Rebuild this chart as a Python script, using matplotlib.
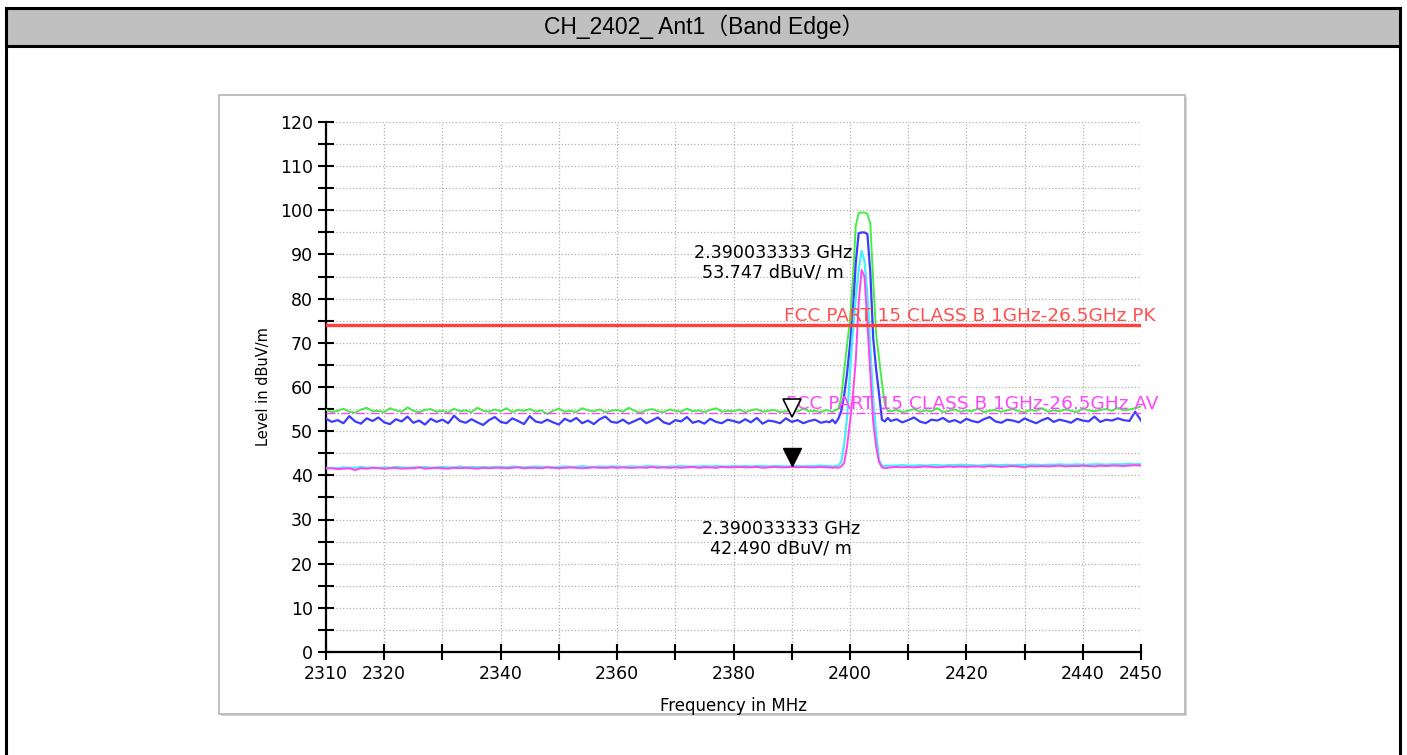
import matplotlib
matplotlib.use("Agg")
import matplotlib.pyplot as plt
import matplotlib.transforms as mtransforms
from matplotlib.patches import Rectangle
from matplotlib.lines import Line2D
import numpy as np

# ---- data ----
title = "CH_2402_ Ant1（Band Edge）"

# sweep frequencies (MHz): 1 MHz steps on the flat parts, 0.5 MHz around the carrier
freq = np.concatenate([np.arange(2310, 2397, 1.0),
                       np.arange(2396.5, 2407.0, 0.5),
                       np.arange(2407, 2451, 1.0)])

green_flat1 = [54.8, 54.3, 54.6, 55.1, 54.4, 54.2, 54.9, 55.3, 54.5, 54.6,
               54.3, 55.2, 54.7, 54.4, 55.4, 54.6, 54.3, 54.8, 55.0, 54.4,
               54.6, 54.2, 55.1, 54.5, 54.7, 54.3, 55.3, 54.6, 54.4, 54.9,
               54.5, 55.2, 54.3, 54.8, 54.6, 55.0, 54.4, 54.7, 53.9, 54.6,
               55.1, 54.4, 54.6, 54.3, 55.2, 54.7, 54.5, 54.9, 54.3, 54.6,
               54.8, 54.4, 55.3, 54.6, 54.2, 54.7, 55.0, 54.5, 54.3, 54.9,
               54.6, 54.4, 55.1, 54.5, 54.7, 54.3, 54.8, 55.2, 54.4, 54.6,
               54.5, 54.9, 54.3, 54.7, 55.0, 54.4, 54.6, 54.8, 54.3, 54.5,
               54.7, 54.4, 55.1, 54.5, 54.6, 54.3, 54.8]
green_peak = [54.6, 54.3, 54.8, 55.0, 57.5, 63.5, 69.5, 75.0, 84.0, 96.5, 99.4,
              99.5, 99.5, 99.2, 97.0, 84.0, 72.0, 66.5, 61.0, 56.0, 54.6]
green_flat2 = [54.5, 54.8, 54.3, 54.6, 55.0, 54.4, 54.7, 54.5, 55.2, 54.3,
               54.6, 54.9, 54.4, 54.7, 54.5, 55.1, 54.3, 54.6, 54.8, 54.4,
               54.7, 55.0, 54.5, 54.3, 54.8, 54.6, 55.2, 54.4, 54.7, 54.5,
               54.9, 54.6, 54.3, 55.1, 54.7, 54.5, 54.8, 55.0, 54.6, 55.3,
               54.7, 54.9, 55.2, 55.6]

blue_flat1 = [52.8, 52.1, 52.5, 51.8, 53.4, 52.2, 51.7, 52.9, 52.3, 53.1,
              52.0, 51.6, 52.7, 52.2, 53.3, 51.9, 52.4, 51.5, 52.8, 52.1,
              52.6, 51.8, 53.5, 52.3, 51.9, 52.7, 52.0, 51.4, 52.5, 53.2,
              52.1, 51.8, 52.9, 52.3, 51.6, 53.4, 52.2, 51.9, 52.6, 52.0,
              51.5, 52.8, 52.2, 53.0, 51.8, 52.4, 51.6, 52.7, 53.3, 52.1,
              51.9, 52.6, 51.7, 52.3, 52.9, 51.8, 52.4, 53.1, 52.0, 51.6,
              52.5, 52.2, 53.2, 51.9, 52.3, 51.7, 52.8, 52.1, 51.8, 52.6,
              52.3, 51.9, 52.7, 52.0, 53.0, 51.7, 52.4, 52.2, 51.8, 52.9,
              52.1, 52.5, 51.8, 52.3, 52.6, 51.9, 52.2]
blue_peak = [52.0, 52.6, 51.8, 52.8, 54.5, 58.0, 63.0, 69.5, 77.0, 88.0, 94.8,
             95.0, 95.0, 94.6, 86.0, 71.0, 64.0, 58.5, 52.6, 52.2, 53.0]
blue_flat2 = [52.3, 52.7, 52.0, 52.5, 53.1, 52.2, 51.8, 52.6, 52.4, 53.0,
              52.1, 52.5, 51.9, 52.8, 52.3, 52.0, 52.7, 53.2, 52.2, 51.9,
              52.6, 52.4, 52.0, 52.9, 52.3, 51.8, 52.5, 53.0, 52.1, 52.6,
              52.3, 51.9, 52.8, 52.4, 52.2, 53.3, 52.1, 52.6, 52.4, 52.9,
              52.5, 52.3, 54.4, 52.4]

cyan_flat1 = [41.6, 41.7, 41.6, 41.8, 41.7, 41.7, 41.9, 41.7, 41.8, 41.7,
              41.8, 41.7, 41.9, 41.8, 41.7, 41.8, 41.8, 41.9, 41.7, 41.8,
              41.9, 41.8, 41.8, 42.0, 41.8, 41.9, 41.8, 41.9, 41.8, 41.9,
              41.9, 41.8, 42.0, 41.9, 41.8, 41.9, 42.0, 41.9, 41.9, 41.8,
              41.9, 42.0, 41.9, 41.9, 42.1, 41.9, 41.9, 42.0, 41.9, 42.0,
              42.0, 41.9, 42.0, 42.0, 41.9, 42.1, 42.0, 42.0, 41.9, 42.0,
              42.0, 42.1, 42.0, 42.0, 42.0, 42.1, 42.0, 42.1, 42.0, 42.0,
              42.1, 42.0, 42.1, 42.0, 42.1, 42.1, 42.0, 42.1, 42.1, 42.0,
              42.1, 42.1, 42.0, 42.1, 42.1, 42.2, 42.1]
cyan_peak = [42.1, 42.0, 42.1, 42.2, 43.0, 47.0, 53.0, 63.0, 72.5, 80.0, 86.5,
             90.8, 88.5, 81.0, 69.0, 57.0, 49.5, 43.5, 42.2, 42.1, 42.2]
cyan_flat2 = [42.2, 42.2, 42.3, 42.2, 42.2, 42.3, 42.2, 42.3, 42.3, 42.2,
              42.3, 42.3, 42.4, 42.3, 42.3, 42.2, 42.3, 42.4, 42.3, 42.3,
              42.4, 42.3, 42.4, 42.3, 42.4, 42.4, 42.3, 42.4, 42.4, 42.5,
              42.4, 42.4, 42.5, 42.4, 42.4, 42.5, 42.5, 42.4, 42.5, 42.5,
              42.5, 42.6, 42.5, 42.6]

pink_flat1 = [41.5, 41.6, 41.4, 41.5, 41.6, 41.2, 41.6, 41.5, 41.7, 41.6,
              41.5, 41.6, 41.7, 41.5, 41.6, 41.6, 41.8, 41.5, 41.6, 41.7,
              41.6, 41.5, 41.7, 41.6, 41.7, 41.6, 41.5, 41.7, 41.6, 41.7,
              41.7, 41.6, 41.7, 41.8, 41.6, 41.7, 41.7, 41.6, 41.8, 41.7,
              41.6, 41.7, 41.8, 41.7, 41.6, 41.7, 41.8, 41.7, 41.7, 41.8,
              41.7, 41.8, 41.7, 41.7, 41.8, 41.7, 41.9, 41.7, 41.8, 41.7,
              41.8, 41.7, 41.8, 41.9, 41.7, 41.8, 41.8, 41.7, 41.9, 41.8,
              41.8, 41.9, 41.8, 41.8, 41.9, 41.7, 41.8, 41.9, 41.8, 41.8,
              41.9, 41.8, 41.9, 41.8, 41.8, 41.9, 41.8]
pink_peak = [41.8, 41.7, 41.8, 41.7, 42.0, 42.8, 46.5, 52.0, 58.0, 66.0, 79.0,
             86.5, 85.0, 74.5, 63.0, 52.0, 46.5, 43.0, 41.8, 41.6, 41.7]
pink_flat2 = [41.8, 41.9, 41.8, 41.9, 41.8, 41.9, 42.0, 41.9, 41.8, 41.9,
              42.0, 41.9, 42.0, 41.9, 42.0, 42.0, 41.9, 42.1, 42.0, 41.9,
              42.0, 42.1, 42.0, 41.8, 42.1, 42.0, 42.1, 42.0, 42.1, 42.2,
              42.0, 42.1, 42.1, 42.2, 42.1, 42.0, 42.2, 42.1, 42.2, 42.2,
              42.1, 42.2, 42.3, 42.2]

green = green_flat1 + green_peak + green_flat2
blue = blue_flat1 + blue_peak + blue_flat2
cyan = cyan_flat1 + cyan_peak + cyan_flat2
pink = pink_flat1 + pink_peak + pink_flat2

# limits
limit_pk = 74.0
limit_av = 54.0
limit_pk_label = "FCC PART 15 CLASS B 1GHz-26.5GHz PK"
limit_av_label = "FCC PART 15 CLASS B 1GHz-26.5GHz AV"

# markers
marker_freq = 2390.033333
marker_pk = 53.747
marker_av = 42.490

xticks = [2310, 2320, 2330, 2340, 2350, 2360, 2370, 2380, 2390, 2400, 2410, 2420, 2430, 2440, 2450]
xtick_labels = ["2310", "2320", "", "2340", "", "2360", "", "2380", "", "2400", "", "2420", "", "2440", "2450"]
yticks = list(range(0, 121, 10))

# ---- figure ----
W, H = 1407, 755
fig = plt.figure(figsize=(W / 100, H / 100), dpi=100)
fig.patch.set_facecolor("white")

# header band and frame
fig.add_artist(Rectangle((6 / W, 1 - 46 / H), (1400 - 6) / W, 38 / H,
                         transform=fig.transFigure, facecolor="#c0c0c0", edgecolor="none", zorder=0))
for (x0, y0, x1, y1) in [(6, 8, 1400, 8), (6, 46, 1400, 46), (6, 8, 6, 755), (1400, 8, 1400, 755)]:
    fig.add_artist(Line2D([x0 / W, x1 / W], [1 - y0 / H, 1 - y1 / H], transform=fig.transFigure,
                          color="black", lw=2.2, zorder=1))
fig.text(704 / W, 1 - 27 / H, title, ha="center", va="center", fontsize=16.5,
         family=["Liberation Sans", "Noto Sans CJK SC"])

# chart panel with a faint shadow on the right/bottom
fig.add_artist(Rectangle((221 / W, 1 - 716 / H), (1185 - 219) / W, (714 - 95) / H,
                         transform=fig.transFigure, facecolor="#d8d8d8", edgecolor="none", zorder=0))
fig.add_artist(Rectangle((219 / W, 1 - 714 / H), (1185 - 219) / W, (714 - 95) / H,
                         transform=fig.transFigure, facecolor="white", edgecolor="#b4b4b4", lw=1.2, zorder=0))

ax = fig.add_axes([326 / W, 1 - 652 / H, (1141 - 326) / W, (652 - 122) / H])
ax.set_facecolor("none")
ax.set_xlim(2310, 2450)
ax.set_ylim(0, 120)

ax.plot(freq, green, color="#44ee44", lw=1.4, zorder=3)
ax.plot(freq, blue, color="#3c3cff", lw=1.6, zorder=4)
ax.plot(freq, cyan, color="#44eeff", lw=1.6, zorder=5)
ax.plot(freq, pink, color="#ff44ee", lw=1.4, zorder=6)

ax.axhline(limit_pk, color="#ff4040", lw=2.4, zorder=7)
ax.axhline(limit_av, color="#ff44ff", lw=1.0, ls="-.", zorder=7)
ax.annotate(limit_pk_label, (2450, limit_pk), xytext=(15, 0), textcoords="offset pixels",
            ha="right", va="bottom", fontsize=13.3, color="#ff5050", annotation_clip=False, zorder=8)
ax.annotate(limit_av_label, (2450, limit_av), xytext=(17, 0), textcoords="offset pixels",
            ha="right", va="bottom", fontsize=13.3, color="#ff44ff", annotation_clip=False, zorder=8)

# markers sit just above their reading
mk_tr = mtransforms.offset_copy(ax.transData, fig=fig, x=0, y=7, units="dots")
ax.plot([marker_freq], [marker_pk], marker="v", ms=13, mfc="white", mec="black", mew=1.2,
        transform=mk_tr, zorder=9, clip_on=False)
ax.plot([marker_freq], [marker_av], marker="v", ms=13, mfc="black", mec="black",
        transform=mk_tr, zorder=9, clip_on=False)
ax.annotate(f"{marker_freq / 1000:.9f} GHz\n{marker_pk:.3f} dBuV/ m", (marker_freq, marker_pk),
            xytext=(-19, 152), textcoords="offset pixels", ha="center", va="center",
            fontsize=12.6, linespacing=1.1, zorder=9)
ax.annotate(f"{marker_freq / 1000:.9f} GHz\n{marker_av:.3f} dBuV/ m", (marker_freq, marker_av),
            xytext=(-11, -74), textcoords="offset pixels", ha="center", va="center",
            fontsize=12.6, linespacing=1.1, zorder=9)

# axes styling
for side in ["top", "right"]:
    ax.spines[side].set_visible(False)
for side in ["left", "bottom"]:
    ax.spines[side].set_linewidth(1.6)
ax.set_xticks(xticks)
ax.set_xticklabels(xtick_labels)
ax.set_yticks(yticks)
ax.set_yticks(range(5, 120, 10), minor=True)
ax.tick_params(which="both", direction="inout", length=11, width=1.5, labelsize=12.5, pad=4)
ax.tick_params(axis="x", which="minor", bottom=False)
ax.grid(axis="x", which="major", color="#b0b0b0", ls=":", lw=0.9)
ax.grid(axis="y", which="both", color="#b0b0b0", ls=":", lw=0.9)
ax.set_xlabel("Frequency in MHz", fontsize=12, labelpad=10)
ax.set_ylabel("Level in dBuV/m", fontsize=10.5, labelpad=6)

fig.savefig("out.png", dpi=100)
